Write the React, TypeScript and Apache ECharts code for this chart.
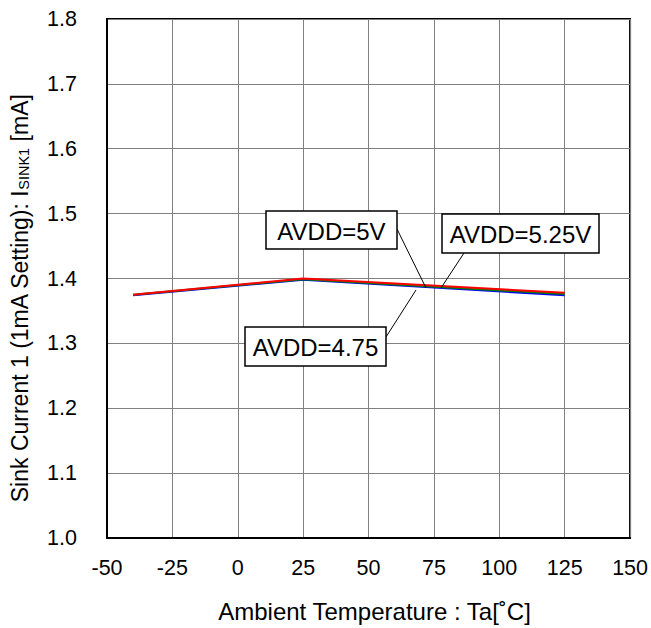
import React, { useEffect, useRef } from "react";
import * as echarts from "echarts";

const temps = [-40, 25, 125];
const avdd475 = [1.374, 1.398, 1.374];
const avdd5 = [1.375, 1.399, 1.376];
const avdd525 = [1.375, 1.4, 1.378];
const seriesNames = ["AVDD=4.75", "AVDD=5V", "AVDD=5.25V"];
const seriesColors = ["#0000ff", "#008000", "#ff0000"];

export default function App() {
  const ref = useRef<HTMLDivElement>(null);
  useEffect(() => {
    if (!ref.current) return;
    const chart = echarts.init(ref.current, null, { renderer: "svg" });
    const font = "'Liberation Sans', Arial, sans-serif";
    const datasets = [avdd475, avdd5, avdd525];
    const box = (x: number, y: number, w: number, h: number, text: string) => ({
      type: "group",
      children: [
        { type: "rect", shape: { x, y, width: w, height: h }, style: { fill: "#fff", stroke: "#000", lineWidth: 1.5 }, z: 10 },
        { type: "text", x: x + w / 2, y: y + h / 2 + 1, style: { text, fontFamily: font, fontSize: 24, fill: "#000", align: "center", verticalAlign: "middle" }, z: 11 },
      ],
    });
    const leader = (x1: number, y1: number, x2: number, y2: number) => ({
      type: "line",
      shape: { x1, y1, x2, y2 },
      style: { stroke: "#000", lineWidth: 1 },
      z: 9,
    });
    chart.setOption({
      animation: false,
      grid: { left: 105, right: 19, top: 19, bottom: 87, show: true, borderColor: "#000", borderWidth: 2, backgroundColor: "#fff" },
      xAxis: {
        type: "value",
        min: -50,
        max: 150,
        interval: 25,
        name: "Ambient Temperature : Ta[˚C]",
        nameLocation: "middle",
        nameGap: 61,
        nameTextStyle: { fontFamily: font, fontSize: 24, color: "#000", padding: [0, 0, 0, 12] },
        axisLine: { show: true, onZero: false, lineStyle: { color: "#000", width: 2 } },
        axisTick: { show: false },
        axisLabel: { fontFamily: font, fontSize: 21.5, color: "#000", margin: 19 },
        splitLine: { show: true, lineStyle: { color: "#808080", width: 1 } },
      },
      yAxis: {
        type: "value",
        min: 1.0,
        max: 1.8,
        interval: 0.1,
        name: "{n|Sink Current 1 (1mA Setting): I}{s|SINK1}{n| [mA]}",
        nameLocation: "middle",
        nameGap: 76,
        nameTextStyle: {
          fontFamily: font,
          fontSize: 23,
          color: "#000",
          padding: [0, 40, 0, 0],
          rich: {
            n: { fontFamily: font, fontSize: 23, color: "#000" },
            s: { fontFamily: font, fontSize: 14.5, color: "#000", verticalAlign: "bottom", padding: [8, 0, 0, 0] },
          },
        },
        axisLine: { show: true, onZero: false, lineStyle: { color: "#000", width: 2 } },
        axisTick: { show: false },
        axisLabel: { fontFamily: font, fontSize: 21.5, color: "#000", margin: 30, formatter: (v: number) => v.toFixed(1) },
        splitLine: { show: true, lineStyle: { color: "#808080", width: 1 } },
      },
      series: datasets.map((d, i) => ({
        name: seriesNames[i],
        type: "line",
        data: temps.map((t, j) => [t, d[j]]),
        showSymbol: false,
        symbol: "none",
        lineStyle: { color: seriesColors[i], width: 2 },
        z: 3 + i,
      })),
      graphic: [
        leader(397, 229, 426, 288),
        leader(464, 253, 441, 288),
        leader(386, 337, 416, 290),
        box(266, 211, 131, 38, "AVDD=5V"),
        box(442, 214, 157, 39, "AVDD=5.25V"),
        box(245, 327, 141, 39, "AVDD=4.75"),
      ],
    });
    return () => chart.dispose();
  }, []);
  return <div ref={ref} style={{ width: 651, height: 628, position: "absolute", left: 0, top: 0, background: "#fff" }} />;
}
